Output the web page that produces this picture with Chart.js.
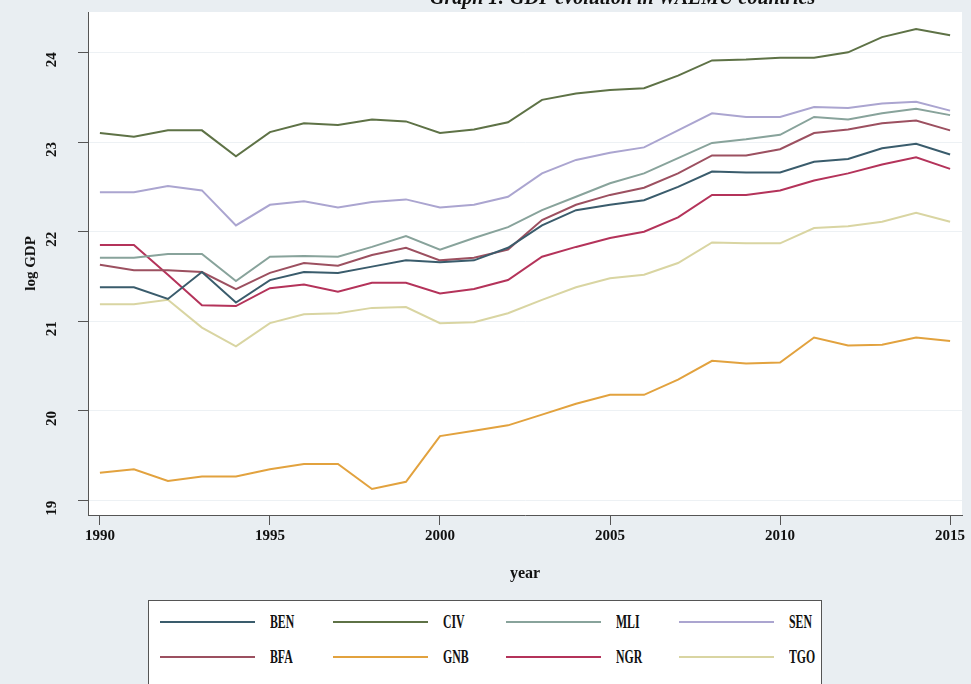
<!DOCTYPE html>
<html>
<head>
<meta charset="utf-8">
<script src="https://cdn.jsdelivr.net/npm/chart.js@4.4.1/dist/chart.umd.min.js"></script>
<style>
html,body{margin:0;padding:0;background:#e9eef2;}
#wrap{position:relative;width:971px;height:684px;overflow:hidden;}
#c{position:absolute;left:0;top:0;}
#ttl{position:absolute;top:-14px;left:430px;font:italic bold 20px 'Liberation Serif',serif;color:#111;white-space:nowrap;}
#leg{position:absolute;left:148px;top:600px;width:674px;height:92px;background:#fff;border:1px solid #555;box-sizing:border-box;
  display:grid;grid-template-rows:35px 35px;grid-auto-flow:column;grid-template-columns:repeat(4,173px);padding:3px 0 0 11px;}
.it{display:flex;align-items:center;}
.sw{width:95px;height:2px;margin-right:15px;}
.lb{font:bold 19px 'Liberation Serif',serif;color:#111;transform:scaleX(.62);transform-origin:left center;}
</style>
</head>
<body>
<div id="wrap">
  <canvas id="c" width="971" height="684"></canvas>
  <div id="ttl">Graph 1: GDP evolution in WAEMU countries</div>
  <div id="leg"></div>
</div>
<script>
// ── data (log GDP) ──
const years=[1990,1991,1992,1993,1994,1995,1996,1997,1998,1999,2000,2001,2002,2003,2004,2005,2006,2007,2008,2009,2010,2011,2012,2013,2014,2015];
const xTicks=[1990,1995,2000,2005,2010,2015];
const yTicks=[19,20,21,22,23,24];

const BEN=[21.38,21.38,21.25,21.55,21.21,21.46,21.55,21.54,21.61,21.68,21.66,21.68,21.82,22.07,22.24,22.30,22.35,22.50,22.67,22.66,22.66,22.78,22.81,22.93,22.98,22.86];
const BFA=[21.63,21.57,21.57,21.55,21.36,21.54,21.65,21.62,21.74,21.82,21.68,21.71,21.80,22.13,22.30,22.41,22.49,22.65,22.85,22.85,22.92,23.10,23.14,23.21,23.24,23.13];
const CIV=[23.10,23.06,23.13,23.13,22.84,23.11,23.21,23.19,23.25,23.23,23.10,23.14,23.22,23.47,23.54,23.58,23.60,23.74,23.91,23.92,23.94,23.94,24.00,24.17,24.26,24.19];
const GNB=[19.31,19.35,19.22,19.27,19.27,19.35,19.41,19.41,19.13,19.21,19.72,19.78,19.84,19.96,20.08,20.18,20.18,20.35,20.56,20.53,20.54,20.82,20.73,20.74,20.82,20.78];
const MLI=[21.71,21.71,21.75,21.75,21.45,21.72,21.73,21.72,21.83,21.95,21.80,21.93,22.05,22.24,22.39,22.54,22.65,22.82,22.99,23.03,23.08,23.28,23.25,23.32,23.37,23.30];
const NGR=[21.85,21.85,21.52,21.18,21.17,21.37,21.41,21.33,21.43,21.43,21.31,21.36,21.46,21.72,21.83,21.93,22.00,22.16,22.41,22.41,22.46,22.57,22.65,22.75,22.83,22.70];
const SEN=[22.44,22.44,22.51,22.46,22.07,22.30,22.34,22.27,22.33,22.36,22.27,22.30,22.39,22.65,22.80,22.88,22.94,23.13,23.32,23.28,23.28,23.39,23.38,23.43,23.45,23.35];
const TGO=[21.19,21.19,21.24,20.93,20.72,20.98,21.08,21.09,21.15,21.16,20.98,20.99,21.09,21.24,21.38,21.48,21.52,21.65,21.88,21.87,21.87,22.04,22.06,22.11,22.21,22.11];

const series=[
  {label:'BEN',data:BEN,color:'#3a5c6c'},
  {label:'BFA',data:BFA,color:'#9c5060'},
  {label:'CIV',data:CIV,color:'#5e7246'},
  {label:'GNB',data:GNB,color:'#e2a23e'},
  {label:'MLI',data:MLI,color:'#88a39b'},
  {label:'NGR',data:NGR,color:'#b4335a'},
  {label:'SEN',data:SEN,color:'#aba5d0'},
  {label:'TGO',data:TGO,color:'#d9d5a2'},
];

const tickFont={family:'Liberation Serif',weight:'bold',size:15};

const plotBg={id:'plotBg',beforeDraw(ch){
  const {ctx,chartArea:a}=ch;
  ctx.save();ctx.fillStyle='#ffffff';ctx.fillRect(a.left,a.top,a.right-a.left,a.bottom-a.top);ctx.restore();
}};

const chart=new Chart(document.getElementById('c'),{
  type:'line',
  data:{datasets:series.map(s=>({
    label:s.label,
    data:years.map((y,i)=>({x:y,y:s.data[i]})),
    borderColor:s.color,backgroundColor:s.color,borderWidth:2,pointRadius:0,tension:0,fill:false
  }))},
  options:{
    responsive:false,animation:false,
    layout:{padding:{left:0,top:12,right:9,bottom:101}},
    plugins:{legend:{display:false},tooltip:{enabled:false}},
    scales:{
      x:{type:'linear',min:1989.65,max:2015.35,
        afterBuildTicks:s=>{s.ticks=xTicks.map(v=>({value:v}));},
        afterFit:s=>{s.height=68;s.paddingLeft=0;s.paddingRight=0;},
        grid:{drawOnChartArea:false,tickLength:10,tickColor:'#555'},
        border:{color:'#555',width:1},
        ticks:{font:tickFont,color:'#111',padding:2,maxRotation:0,callback:v=>String(v)},
        title:{display:true,text:'year',font:{family:'Liberation Serif',weight:'bold',size:16},color:'#111',padding:{top:6,bottom:0}}
      },
      y:{min:18.84,max:24.45,
        afterBuildTicks:s=>{s.ticks=yTicks.map(v=>({value:v}));},
        afterFit:s=>{s.width=88;s.paddingTop=0;s.paddingBottom=0;},
        grid:{color:'#edf1f4',lineWidth:1,tickLength:10,tickColor:'#555'},
        border:{color:'#555',width:1},
        ticks:{font:tickFont,color:'#111',padding:26,minRotation:90,maxRotation:90,callback:v=>String(v)},
        title:{display:true,text:'log GDP',font:{family:'Liberation Serif',weight:'bold',size:15},color:'#111',padding:{top:22,bottom:22}}
      }
    }
  },
  plugins:[plotBg]
});

document.getElementById('leg').innerHTML=chart.data.datasets.map(d=>
  `<div class="it"><div class="sw" style="background:${d.borderColor}"></div><span class="lb">${d.label}</span></div>`).join('');
</script>
</body>
</html>
